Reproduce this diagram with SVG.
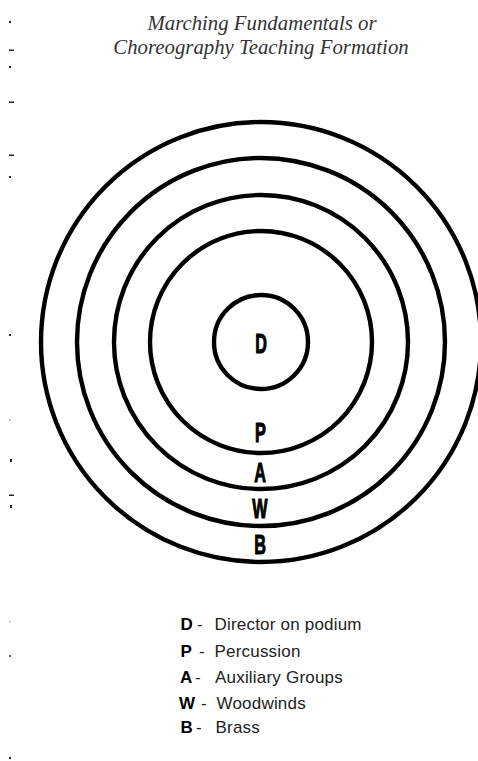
<svg xmlns="http://www.w3.org/2000/svg" width="478" height="761" viewBox="0 0 478 761">
<style>
.ring{fill:none;stroke:#000;stroke-width:4.4}
.title{font-family:"Liberation Serif","Times New Roman",serif;font-style:italic;font-size:20.8px;fill:#333;text-anchor:middle}
.lbl{font-family:"Liberation Sans",Arial,sans-serif;font-weight:bold;font-size:27px;fill:#000;stroke:#000;stroke-width:1.1;text-anchor:middle}
.leg{font-family:"Liberation Sans",Arial,sans-serif;font-size:17px;letter-spacing:0.2px;fill:#222}
.legb{font-family:"Liberation Sans",Arial,sans-serif;font-size:17px;font-weight:bold;fill:#000}
.mark{fill:#222}
</style>
<rect width="478" height="761" fill="#fff"/>
<g id="title">
<text class="title" x="262" y="30">Marching Fundamentals or</text>
<text class="title" x="261" y="54">Choreography Teaching Formation</text>
</g>
<g id="margin-marks">
<rect class="mark" x="9" y="21" width="2" height="2"/>
<rect class="mark" x="9" y="49.5" width="5" height="1.5"/>
<rect class="mark" x="9" y="66" width="2" height="2"/>
<rect class="mark" x="9" y="101.5" width="5" height="1.5"/>
<rect class="mark" x="9" y="154.5" width="5" height="1.5"/>
<rect class="mark" x="9" y="176" width="2" height="2"/>
<rect class="mark" x="9" y="334" width="2" height="2"/>
<rect class="mark" x="9" y="419" width="1.5" height="1.5" opacity="0.5"/>
<rect class="mark" x="10" y="459" width="2" height="3"/>
<rect class="mark" x="9" y="494.5" width="5" height="1.5"/>
<rect class="mark" x="10" y="505" width="2" height="3"/>
<rect class="mark" x="9" y="621" width="1.5" height="1.5" opacity="0.4"/>
<rect class="mark" x="9" y="655" width="2" height="2" opacity="0.7"/>
<rect class="mark" x="9" y="757" width="2" height="2"/>
</g>
<g id="ring-B"><circle class="ring" cx="261" cy="342" r="220"/><text class="lbl" transform="translate(260,553.5) scale(0.6,1)">B</text></g>
<g id="ring-W"><circle class="ring" cx="261" cy="342" r="184"/><text class="lbl" transform="translate(260,517.5) scale(0.6,1)">W</text></g>
<g id="ring-A"><circle class="ring" cx="261" cy="342" r="147"/><text class="lbl" transform="translate(260,482) scale(0.6,1)">A</text></g>
<g id="ring-P"><circle class="ring" cx="261" cy="342" r="111"/><text class="lbl" transform="translate(260.5,442) scale(0.6,1)">P</text></g>
<g id="node-D"><circle class="ring" cx="261" cy="342" r="47"/><text class="lbl" transform="translate(261,353) scale(0.6,1)">D</text></g>
<g id="connectors"/>
<g id="legend">
<text class="legb" x="180.5" y="630">D</text><text class="leg" x="197" y="630">-</text><text class="leg" x="214.5" y="630">Director on podium</text>
<text class="legb" x="180.5" y="657">P</text><text class="leg" x="199" y="657">-</text><text class="leg" x="214.5" y="657">Percussion</text>
<text class="legb" x="180" y="683">A</text><text class="leg" x="195" y="683">-</text><text class="leg" x="215" y="683">Auxiliary Groups</text>
<text class="legb" x="179" y="709">W</text><text class="leg" x="201" y="709">-</text><text class="leg" x="216.5" y="709">Woodwinds</text>
<text class="legb" x="180.5" y="733">B</text><text class="leg" x="196" y="733">-</text><text class="leg" x="215.5" y="733">Brass</text>
</g>
</svg>
